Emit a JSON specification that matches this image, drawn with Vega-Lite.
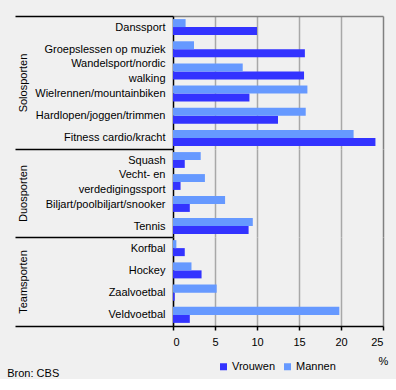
{
  "$schema": "https://vega.github.io/schema/vega-lite/v6.json",
  "background": "#f0f0f0",
  "padding": {"left": 7, "top": 15, "right": 8, "bottom": 0},
  "spacing": 0,
  "bounds": "flush",
  "config": {
    "font": "Liberation Sans",
    "view": {"stroke": null},
    "concat": {"spacing": 0},
    "axis": {"labelFont": "Liberation Sans", "labelFontSize": 11, "labelColor": "#000", "titleFont": "Liberation Sans", "titleFontSize": 11, "titleFontWeight": "normal", "titleColor": "#000"},
    "legend": {"labelFont": "Liberation Sans", "labelFontSize": 11, "labelColor": "#000", "symbolType": "square", "symbolSize": 49, "symbolStrokeWidth": 0, "labelOffset": 3, "columnPadding": 6}
  },
  "title": {"text": "Bron: CBS", "orient": "bottom", "anchor": "start", "frame": "bounds", "fontSize": 11, "fontWeight": "normal", "font": "Liberation Sans", "color": "#000", "dx": -7, "offset": -4},
  "data": {"values": [
    {"groep": "Solosporten", "sport": "Danssport", "geslacht": "Vrouwen", "waarde": 10.0},
    {"groep": "Solosporten", "sport": "Danssport", "geslacht": "Mannen", "waarde": 1.5},
    {"groep": "Solosporten", "sport": "Groepslessen op muziek", "geslacht": "Vrouwen", "waarde": 15.7},
    {"groep": "Solosporten", "sport": "Groepslessen op muziek", "geslacht": "Mannen", "waarde": 2.5},
    {"groep": "Solosporten", "sport": "Wandelsport/nordic walking", "geslacht": "Vrouwen", "waarde": 15.6},
    {"groep": "Solosporten", "sport": "Wandelsport/nordic walking", "geslacht": "Mannen", "waarde": 8.3},
    {"groep": "Solosporten", "sport": "Wielrennen/mountainbiken", "geslacht": "Vrouwen", "waarde": 9.1},
    {"groep": "Solosporten", "sport": "Wielrennen/mountainbiken", "geslacht": "Mannen", "waarde": 16.0},
    {"groep": "Solosporten", "sport": "Hardlopen/joggen/trimmen", "geslacht": "Vrouwen", "waarde": 12.5},
    {"groep": "Solosporten", "sport": "Hardlopen/joggen/trimmen", "geslacht": "Mannen", "waarde": 15.8},
    {"groep": "Solosporten", "sport": "Fitness cardio/kracht", "geslacht": "Vrouwen", "waarde": 24.1},
    {"groep": "Solosporten", "sport": "Fitness cardio/kracht", "geslacht": "Mannen", "waarde": 21.5},
    {"groep": "Duosporten", "sport": "Squash", "geslacht": "Vrouwen", "waarde": 1.4},
    {"groep": "Duosporten", "sport": "Squash", "geslacht": "Mannen", "waarde": 3.3},
    {"groep": "Duosporten", "sport": "Vecht- en verdedigingssport", "geslacht": "Vrouwen", "waarde": 0.9},
    {"groep": "Duosporten", "sport": "Vecht- en verdedigingssport", "geslacht": "Mannen", "waarde": 3.8},
    {"groep": "Duosporten", "sport": "Biljart/poolbiljart/snooker", "geslacht": "Vrouwen", "waarde": 2.0},
    {"groep": "Duosporten", "sport": "Biljart/poolbiljart/snooker", "geslacht": "Mannen", "waarde": 6.2},
    {"groep": "Duosporten", "sport": "Tennis", "geslacht": "Vrouwen", "waarde": 9.0},
    {"groep": "Duosporten", "sport": "Tennis", "geslacht": "Mannen", "waarde": 9.5},
    {"groep": "Teamsporten", "sport": "Korfbal", "geslacht": "Vrouwen", "waarde": 1.4},
    {"groep": "Teamsporten", "sport": "Korfbal", "geslacht": "Mannen", "waarde": 0.4},
    {"groep": "Teamsporten", "sport": "Hockey", "geslacht": "Vrouwen", "waarde": 3.4},
    {"groep": "Teamsporten", "sport": "Hockey", "geslacht": "Mannen", "waarde": 2.2},
    {"groep": "Teamsporten", "sport": "Zaalvoetbal", "geslacht": "Vrouwen", "waarde": 0.2},
    {"groep": "Teamsporten", "sport": "Zaalvoetbal", "geslacht": "Mannen", "waarde": 5.2},
    {"groep": "Teamsporten", "sport": "Veldvoetbal", "geslacht": "Vrouwen", "waarde": 2.0},
    {"groep": "Teamsporten", "sport": "Veldvoetbal", "geslacht": "Mannen", "waarde": 19.8}
  ]},
  "resolve": {"scale": {"x": "independent", "y": "independent", "yOffset": "independent"}, "axis": {"x": "independent", "y": "independent"}},
  "vconcat": [
    {
      "width": 210, "height": 133,
      "transform": [{"filter": "datum.groep === 'Solosporten'"}],
      "mark": {"type": "bar"},
      "encoding": {
        "y": {"field": "sport", "type": "nominal", "sort": null, "scale": {"paddingInner": 0, "paddingOuter": 0},
          "axis": {"title": "Solosporten", "titleX": -144.5, "domainColor": "#000", "domainWidth": 1.5, "ticks": true, "tickBand": "extent", "tickSize": 158, "tickWidth": 1.5,
            "tickColor": {"condition": {"test": "datum.index < 0 || datum.value === 'Fitness cardio/kracht'", "value": "#000"}, "value": "transparent"},
            "labelFontSize": {"condition": {"test": "datum.index < 0", "value": 0}, "value": 11},
            "labelOffset": {"condition": {"test": "datum.value === 'Wandelsport/nordic walking'", "value": -7.5}, "value": 0},
            "labelPadding": -150, "labelLimit": 200, "labelLineHeight": 15,
            "labelExpr": "datum.label == 'Wandelsport/nordic walking' ? ['Wandelsport/nordic', 'walking\u00a0\u00a0\u00a0\u00a0\u00a0\u00a0\u00a0\u00a0\u00a0'] : datum.label"}},
        "x": {"field": "waarde", "type": "quantitative", "scale": {"domain": [0, 25], "nice": false},
          "axis": {"orient": "top", "title": null, "labels": false, "ticks": false, "domainColor": "#808080", "domainWidth": 1.5, "grid": true, "values": [5, 10, 15, 20, 25],
            "gridColor": {"condition": {"test": "datum.value === 25", "value": "#808080"}, "value": "#a8a8a8"}, "gridWidth": 1.5}},
        "yOffset": {"field": "geslacht", "sort": ["Mannen", "Vrouwen"], "scale": {"paddingInner": 0, "paddingOuter": 0.39}},
        "color": {"field": "geslacht", "type": "nominal", "scale": {"domain": ["Vrouwen", "Mannen"], "range": ["#3333ff", "#6699ff"]},
          "legend": {"title": null, "orient": "none", "direction": "horizontal", "legendX": 45, "legendY": 345}}
      }
    },
    {
      "width": 210, "height": 88,
      "transform": [{"filter": "datum.groep === 'Duosporten'"}],
      "mark": {"type": "bar"},
      "encoding": {
        "y": {"field": "sport", "type": "nominal", "sort": null, "scale": {"paddingInner": 0, "paddingOuter": 0},
          "axis": {"title": "Duosporten", "titleX": -144.5, "domainColor": "#000", "domainWidth": 1.5, "ticks": true, "tickBand": "extent", "tickSize": 158, "tickWidth": 1.5,
            "tickColor": {"condition": {"test": "datum.value === 'Tennis'", "value": "#000"}, "value": "transparent"},
            "labelFontSize": {"condition": {"test": "datum.index < 0", "value": 0}, "value": 11},
            "labelOffset": {"condition": {"test": "datum.value === 'Vecht- en verdedigingssport'", "value": -7.5}, "value": 0},
            "labelPadding": -150, "labelLimit": 200, "labelLineHeight": 15,
            "labelExpr": "datum.label == 'Vecht- en verdedigingssport' ? ['Vecht- en\u00a0\u00a0\u00a0\u00a0\u00a0\u00a0', 'verdedigingssport'] : datum.label"}},
        "x": {"field": "waarde", "type": "quantitative", "scale": {"domain": [0, 25], "nice": false},
          "axis": {"orient": "top", "title": null, "labels": false, "ticks": false, "domain": false, "grid": true, "values": [5, 10, 15, 20, 25],
            "gridColor": {"condition": {"test": "datum.value === 25", "value": "#808080"}, "value": "#a8a8a8"}, "gridWidth": 1.5}},
        "yOffset": {"field": "geslacht", "sort": ["Mannen", "Vrouwen"], "scale": {"paddingInner": 0, "paddingOuter": 0.39}},
        "color": {"field": "geslacht", "type": "nominal", "scale": {"domain": ["Vrouwen", "Mannen"], "range": ["#3333ff", "#6699ff"]}}
      }
    },
    {
      "width": 210, "height": 89,
      "transform": [{"filter": "datum.groep === 'Teamsporten'"}],
      "mark": {"type": "bar"},
      "encoding": {
        "y": {"field": "sport", "type": "nominal", "sort": null, "scale": {"paddingInner": 0, "paddingOuter": 0},
          "axis": {"title": "Teamsporten", "titleX": -144.5, "domainColor": "#000", "domainWidth": 1.5, "ticks": true, "tickBand": "extent", "tickSize": 158, "tickWidth": 1.5,
            "tickColor": {"condition": {"test": "datum.value === 'Veldvoetbal'", "value": "#000"}, "value": "transparent"},
            "labelFontSize": {"condition": {"test": "datum.index < 0", "value": 0}, "value": 11},
            "labelPadding": -150, "labelLimit": 200}},
        "x": {"field": "waarde", "type": "quantitative", "scale": {"domain": [0, 25], "nice": false},
          "axis": {"orient": "bottom", "title": "%", "titleX": 210, "titleY": 35, "titleAlign": "center", "titleBaseline": "middle",
            "labels": true, "labelPadding": 6, "ticks": true, "tickSize": 4, "tickColor": "#000", "tickWidth": 1.5, "domainColor": "#000", "domainWidth": 1.5,
            "grid": true, "values": [0, 5, 10, 15, 20, 25],
            "gridColor": {"condition": {"test": "datum.value === 25", "value": "#808080"}, "value": "#a8a8a8"}, "gridWidth": 1.5}},
        "yOffset": {"field": "geslacht", "sort": ["Mannen", "Vrouwen"], "scale": {"paddingInner": 0, "paddingOuter": 0.39}},
        "color": {"field": "geslacht", "type": "nominal", "scale": {"domain": ["Vrouwen", "Mannen"], "range": ["#3333ff", "#6699ff"]}}
      }
    }
  ]
}
